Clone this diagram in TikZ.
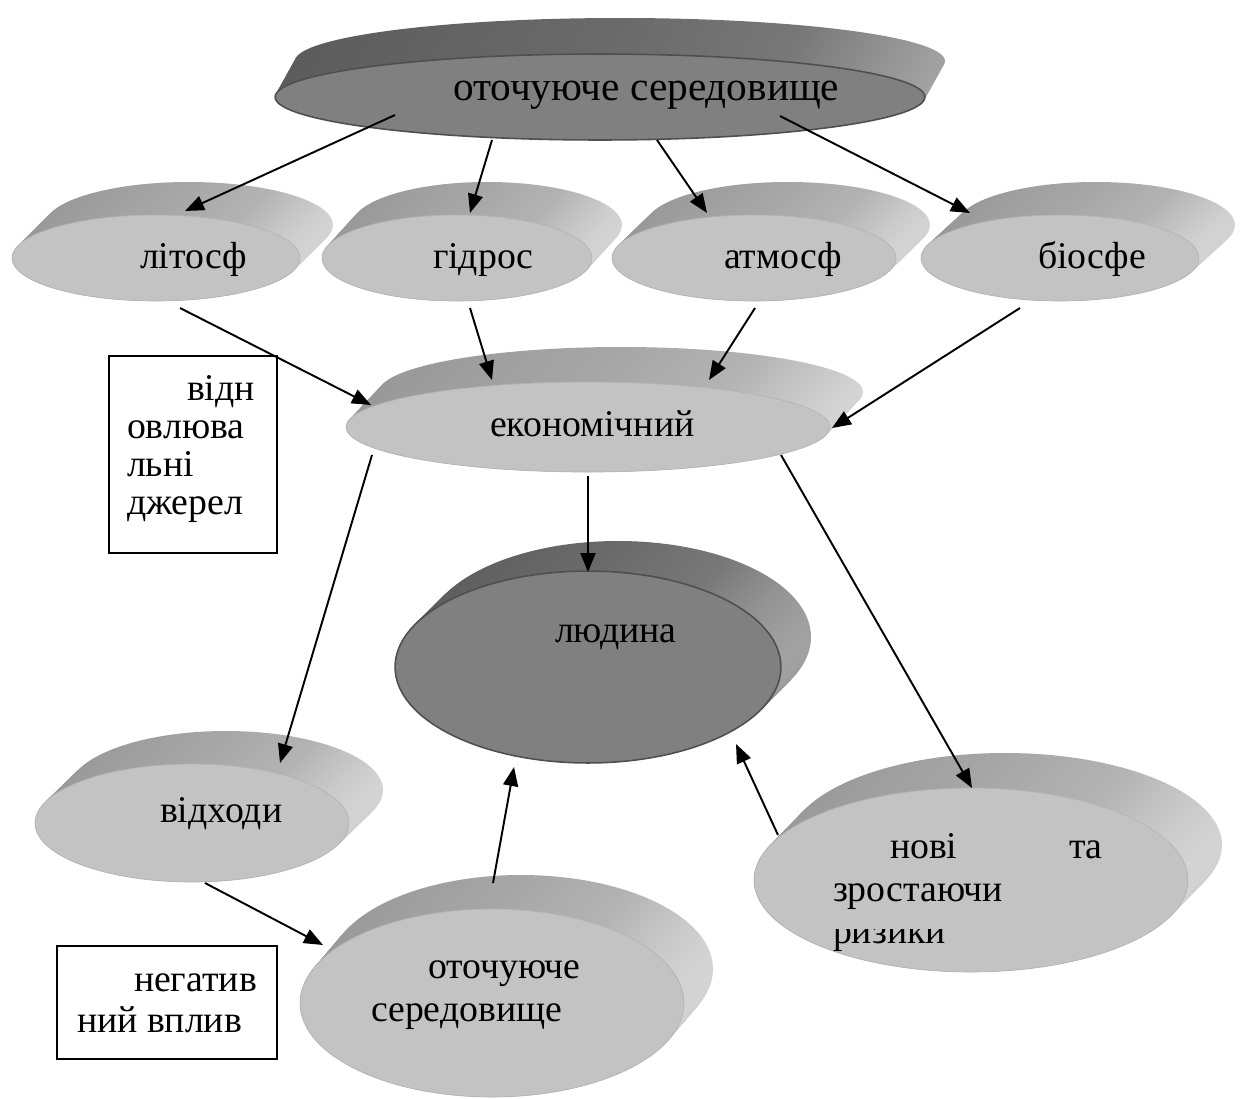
\documentclass[tikz,border=0pt]{standalone}
\usepackage{fontspec}
\setmainfont{Liberation Serif}
\usetikzlibrary{arrows.meta,shapes.geometric}
\definecolor{lface}{HTML}{C3C3C3}
\definecolor{lrim}{HTML}{B4B4B4}
\definecolor{dface}{HTML}{808080}
\definecolor{drim}{HTML}{4F4F4F}
\definecolor{lsA}{HTML}{989898}
\definecolor{lsB}{HTML}{A6A6A6}
\definecolor{lsC}{HTML}{B3B3B3}
\definecolor{lsD}{HTML}{D4D4D4}
\definecolor{dsA}{HTML}{5C5C5C}
\definecolor{dsB}{HTML}{6A6A6A}
\definecolor{dsC}{HTML}{777777}
\definecolor{dsD}{HTML}{A2A2A2}
\pgfdeclarehorizontalshading{lside}{100bp}{color(0bp)=(lsA); color(25bp)=(lsA); color(50bp)=(lsB); color(64bp)=(lsC); color(75bp)=(lsD); color(100bp)=(lsD)}
\pgfdeclarehorizontalshading{dside}{100bp}{color(0bp)=(dsA); color(25bp)=(dsA); color(50bp)=(dsB); color(64bp)=(dsC); color(75bp)=(dsD); color(100bp)=(dsD)}
% #1 cx, #2 cy, #3 rx, #4 ry, #5 dx, #6 dy, #7 kind (l or d)
\newcommand\cylside[7]{%
  \foreach \k in {0,...,24}{%
    \pgfmathsetmacro\ff{1-\k/24}%
    \shade[shading=#7side] ({#1+#5*\ff},{#2+#6*\ff}) ellipse [x radius=#3, y radius=#4];
  }}
\begin{document}
\begin{tikzpicture}[x=0.02cm,y=-0.02cm,
  lfacest/.style={ellipse, fill=lface, draw=lrim, line width=0.4pt, inner sep=0pt, outer sep=0pt},
  dfacest/.style={ellipse, fill=dface, draw=drim, line width=0.9pt, inner sep=0pt, outer sep=0pt},
  txt/.style={anchor=base west, inner sep=0pt, outer sep=0pt, font=\fontsize{21.5}{25}\selectfont},
  bigtxt/.style={txt, font=\fontsize{23.5}{28}\selectfont},
  boxst/.style={draw=black, line width=1.1pt, anchor=north west, inner sep=0pt, fill=white},
  arr/.style={-{Triangle[length=0.38cm,width=0.3cm]}, line width=1.1pt, black}]
\fill[white] (0,0) rectangle (1248,1099);
\useasboundingbox (0,0) rectangle (1248,1099);

% ---- top: оточуюче середовище
\cylside{600}{97}{325}{43}{20}{-36}{d}
\node[dfacest, minimum width={325*0.04cm}, minimum height={43*0.04cm}] (top) at (600,97) {};
\node[bigtxt] (top-t) at (453,100) {оточуюче середовище};

% ---- second row
\cylside{156}{258}{144}{43}{33}{-33}{l}
\node[lfacest, minimum width={144*0.04cm}, minimum height={43*0.04cm}] (lit) at (156,258) {};
\node[txt] (lit-t) at (140,268) {літосф};

\cylside{457}{258}{135}{43}{30}{-33}{l}
\node[lfacest, minimum width={135*0.04cm}, minimum height={43*0.04cm}] (hyd) at (457,258) {};
\node[txt] (hyd-t) at (433,268) {гідрос};

\cylside{754}{258}{142}{43}{34}{-33}{l}
\node[lfacest, minimum width={142*0.04cm}, minimum height={43*0.04cm}] (atm) at (754,258) {};
\node[txt] (atm-t) at (724,268) {атмосф};

\cylside{1060}{258}{139}{43}{36}{-33}{l}
\node[lfacest, minimum width={139*0.04cm}, minimum height={43*0.04cm}] (bio) at (1060,258) {};
\node[txt] (bio-t) at (1038,268) {біосфе};

% ---- економічний
\cylside{588}{427}{242}{45}{33}{-35}{l}
\node[lfacest, minimum width={242*0.04cm}, minimum height={45*0.04cm}] (eco) at (588,427) {};
\node[txt] (eco-t) at (490,436) {економічний};

% ---- людина
\cylside{588}{667}{193}{96}{30}{-30}{d}
\node[dfacest, minimum width={193*0.04cm}, minimum height={96*0.04cm}] (man) at (588,667) {};
\node[txt] (man-t) at (555,642) {людина};

% ---- відходи
\cylside{192}{823}{157}{59}{34}{-33}{l}
\node[lfacest, minimum width={157*0.04cm}, minimum height={59*0.04cm}] (waste) at (192,823) {};
\node[txt] (waste-t) at (160,822) {відходи};

% ---- оточуюче середовище (bottom)
\cylside{492}{1003}{192}{94}{29}{-34}{l}
\node[lfacest, minimum width={192*0.04cm}, minimum height={94*0.04cm}] (env) at (492,1003) {};
\node[txt] (env-t1) at (428,978) {оточуюче};
\node[txt] (env-t2) at (371,1021) {середовище};

% ---- нові та зростаючи ризики
\cylside{971}{880}{217}{92}{34}{-35}{l}
\node[lfacest, minimum width={217*0.04cm}, minimum height={92*0.04cm}] (risk) at (971,880) {};
\node[txt] (risk-t1) at (890,858) {нові};
\node[txt] (risk-t2) at (1069,858) {та};
\node[txt] (risk-t3) at (833,901) {зростаючи};
\begin{scope}
\clip (820,929) rectangle (1010,965);
\node[txt] (risk-t4) at (833,943) {ризики};
\end{scope}

% ---- boxes
\node[boxst, minimum width=3.36cm, minimum height=3.94cm] (box1) at (108,355) {};
\node[txt] (box1-a) at (187,400) {відн};
\node[txt] (box1-b) at (127,438) {овлюва};
\node[txt] (box1-c) at (127,476) {льні};
\node[txt] (box1-d) at (127,514) {джерел};

\node[boxst, minimum width=4.4cm, minimum height=2.26cm] (box2) at (56,945) {};
\node[txt] (box2-a) at (134,991) {негатив};
\node[txt] (box2-b) at (77,1032) {ний вплив};

% ---- connector end points
\coordinate (a1s) at (395,115);  \coordinate (a1e) at (185,211);
\coordinate (a2s) at (492,140);  \coordinate (a2e) at (470,213);
\coordinate (a3s) at (657,140);  \coordinate (a3e) at (707,213);
\coordinate (a4s) at (780,116);  \coordinate (a4e) at (970,213);
\coordinate (a5s) at (180,308);  \coordinate (a5e) at (371,405);
\coordinate (a6s) at (470,308);  \coordinate (a6e) at (492,380);
\coordinate (a7s) at (755,308);  \coordinate (a7e) at (709,380);
\coordinate (a8s) at (1020,308); \coordinate (a8e) at (832,428);
\coordinate (a9s) at (588,476);  \coordinate (a9e) at (588,572);
\coordinate (a10s) at (372,455); \coordinate (a10e) at (280,763);
\coordinate (a11s) at (781,455); \coordinate (a11e) at (972,788);
\coordinate (a12s) at (205,883); \coordinate (a12e) at (323,945);
\coordinate (a13s) at (493,883); \coordinate (a13e) at (514,767);
\coordinate (a14s) at (778,835); \coordinate (a14e) at (736,744);

\foreach \i in {1,...,14}{\draw[arr] (a\i s) -- (a\i e);}
\end{tikzpicture}
\end{document}
